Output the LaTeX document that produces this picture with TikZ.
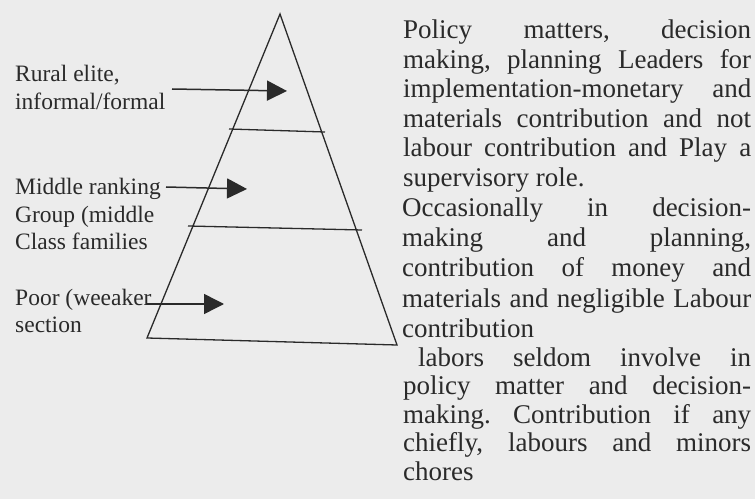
\documentclass[tikz,border=0pt]{standalone}
\usepackage{fontspec}
\setmainfont{Liberation Serif}
\usetikzlibrary{arrows.meta}
\definecolor{paper}{HTML}{ECECEC}
\definecolor{ink}{HTML}{2A2A2A}
\newcommand\jline[2][348bp]{\makebox[#1][s]{#2}}
\frenchspacing
\begin{document}
\begin{tikzpicture}[x=1bp,y=-1bp,
  edge/.style={draw=ink,line width=1.3bp},
  pointer/.style={draw=ink,line width=1.5bp,-{Triangle[length=20bp,width=20bp]}},
  lefttext/.style={font=\fontsize{23.5bp}{27.5bp}\selectfont,text=ink,align=left,inner sep=0pt,anchor=base west},
  righttext/.style={text=ink,align=left,inner sep=0pt,anchor=base west}]
\fill[paper] (0,0) rectangle (755,499);
\useasboundingbox (0,0) rectangle (755,499);
% pyramid
\coordinate (apex) at (280,14);
\coordinate (bl) at (147,338);
\coordinate (br) at (397,345);
\coordinate (t1l) at (229,129);
\coordinate (t1r) at (325,132);
\coordinate (t2l) at (188,226);
\coordinate (t2r) at (362,230);
\draw[edge,line join=miter] (apex) -- (bl) -- (br) -- cycle;
\draw[edge] (t1l) -- (t1r);
\draw[edge] (t2l) -- (t2r);
% left labels (anchor = baseline of last line)
\node[lefttext] (rural) at (15,109.5) {Rural elite,\\informal/formal};
\node[lefttext] (middle) at (15,250) {Middle ranking\\Group (middle\\Class families};
\node[lefttext] (poor) at (15,332.5) {Poor (weeaker\\section};
% arrows
\coordinate (a1s) at (172,89);
\coordinate (a1e) at (287,91);
\coordinate (a2s) at (166,187);
\coordinate (a2e) at (247,189);
\coordinate (a3s) at (147,304);
\coordinate (a3e) at (224,304);
\draw[pointer] (a1s) -- (a1e);
\draw[pointer] (a2s) -- (a2e);
\draw[pointer] (a3s) -- (a3e);
% right descriptions (anchor = baseline of last line)
\node[righttext,font=\fontsize{27bp}{29.5bp}\selectfont] (top) at (403,186.5) {\jline{Policy matters, decision}\\
\jline{making, planning Leaders for}\\
\jline{implementation-monetary and}\\
\jline{materials contribution and not}\\
\jline{labour contribution and Play a}\\
supervisory role.};
\node[righttext,font=\fontsize{27bp}{30bp}\selectfont] (mid) at (402,337) {\jline[349bp]{Occasionally in decision-}\\
\jline[349bp]{making and planning,}\\
\jline[349bp]{contribution of money and}\\
\jline[349bp]{materials and negligible Labour}\\
contribution};
\node[righttext,font=\fontsize{27bp}{28.5bp}\selectfont] (low) at (403,480) {\hspace*{15bp}\jline[333bp]{labors seldom involve in}\\
\jline{policy matter and decision-}\\
\jline{making. Contribution if any}\\
\jline{chiefly, labours and minors}\\
chores};
\end{tikzpicture}
\end{document}
